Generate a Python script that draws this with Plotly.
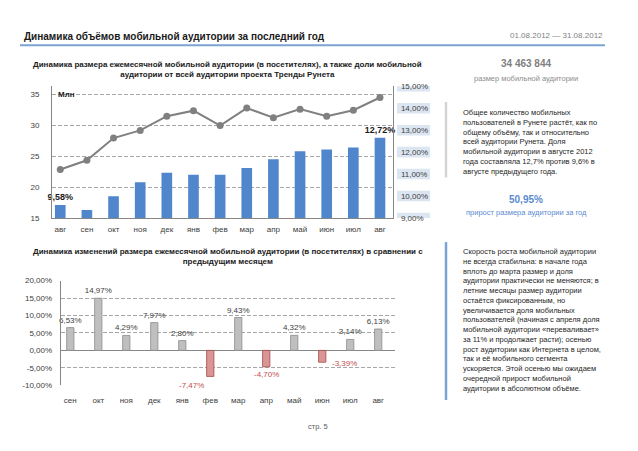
import plotly.graph_objects as go

# ---------------- data ----------------
months_top = ["авг", "сен", "окт", "ноя", "дек", "янв", "фев", "мар", "апр", "май", "июн", "июл", "авг"]
audience_mln = [17.1, 16.3, 18.5, 20.8, 22.3, 22.0, 22.0, 23.1, 24.5, 25.8, 26.1, 26.4, 28.0]
share_pct = [11.21, 11.63, 12.64, 12.99, 13.64, 13.89, 13.21, 14.01, 13.57, 13.96, 13.64, 13.91, 14.49]
bar_labels_top = ["9,58%", "", "", "", "", "", "", "", "", "", "", "", "12,72%"]

months_bottom = ["сен", "окт", "ноя", "дек", "янв", "фев", "мар", "апр", "май", "июн", "июл", "авг"]
change_pct = [6.53, 14.97, 4.29, 7.97, 2.80, -7.47, 9.43, -4.70, 4.32, -3.39, 3.14, 6.13]

left_ticks_top = [15, 20, 25, 30, 35]
right_ticks_top = [9, 10, 11, 12, 13, 14, 15]
ticks_bottom = [-10, -5, 0, 5, 10, 15, 20]

W, H = 638, 451
FONT = "Liberation Sans"


def fx(px):
    return px / W


def fy(py):
    return 1 - py / H


def pct(v):
    return f"{v:.2f}".replace(".", ",") + "%"


fig = go.Figure()

xs_top = list(range(len(months_top)))
fig.add_trace(go.Bar(
    x=xs_top, y=audience_mln, xaxis="x", yaxis="y",
    marker=dict(color="#5086CC", line=dict(width=0)), width=0.4,
    text=bar_labels_top, textposition="outside", cliponaxis=False, constraintext="none",
    textfont=dict(family=FONT, size=9, color="#1A1A1A", weight="bold"),
    showlegend=False, hoverinfo="skip"))
fig.add_trace(go.Scatter(
    x=xs_top, y=share_pct, xaxis="x", yaxis="y2", mode="lines+markers",
    line=dict(color="#808080", width=2),
    marker=dict(color="#808080", size=7),
    showlegend=False, hoverinfo="skip"))

xs_bot = list(range(len(months_bottom)))
pos_color = ["#BFBFBF" if v >= 0 else "#D99694" for v in change_pct]
pos_line = ["#8C8C8C" if v >= 0 else "#A34A48" for v in change_pct]
fig.add_trace(go.Bar(
    x=xs_bot, y=change_pct, xaxis="x2", yaxis="y3",
    marker=dict(color=pos_color, line=dict(color=pos_line, width=0.8)), width=0.26,
    text=[pct(v) if v >= 0 else "" for v in change_pct],
    textposition="outside", cliponaxis=False, constraintext="none",
    textfont=dict(family=FONT, size=8, color="#404040"),
    showlegend=False, hoverinfo="skip"))

annotations = []
# negative labels (Excel places them a little off the bar)
neg_shift = {5: (-19, -2), 7: (0, 0), 9: (22, 6)}
for i, v in enumerate(change_pct):
    if v < 0:
        dx, dy = neg_shift.get(i, (0, 0))
        annotations.append(dict(x=i, y=v, xref="x2", yref="y3", text=pct(v),
                                showarrow=False, yanchor="top", xshift=dx, yshift=dy - 1,
                                font=dict(family=FONT, size=8, color="#C0504D")))

# pale boxes behind right-axis labels
shapes = []
for v in right_ticks_top:
    shapes.append(dict(type="rect", xref="paper", yref="y2", x0=fx(397), x1=fx(430),
                       y0=v - 0.24, y1=v + 0.24, fillcolor="#DCE6F2", line=dict(width=0), layer="below"))

# header rule and side bars
shapes.append(dict(type="line", xref="paper", yref="paper", x0=fx(20), x1=fx(605), y0=fy(42), y1=fy(42),
                   line=dict(color="#7BA3D3", width=2)))
shapes.append(dict(type="line", xref="paper", yref="paper", x0=fx(446), x1=fx(446), y0=fy(100), y1=fy(177),
                   line=dict(color="#D4D4D4", width=2.5)))
shapes.append(dict(type="line", xref="paper", yref="paper", x0=fx(446), x1=fx(446), y0=fy(243), y1=fy(404),
                   line=dict(color="#7BA3D3", width=2.5)))


def txt(x, y, text, size=8, color="#262626", bold=False, xanchor="center", yanchor="middle", align="center"):
    annotations.append(dict(x=fx(x), y=fy(y), xref="paper", yref="paper", text=text, showarrow=False,
                            xanchor=xanchor, yanchor=yanchor, align=align,
                            font=dict(family=FONT, size=size, color=color, weight="bold" if bold else "normal")))


txt(22, 33, "Динамика объёмов мобильной аудитории за последний год", size=10, color="#1A1A1A",
    bold=True, xanchor="left")
txt(605, 32, "01.08.2012 — 31.08.2012", size=8, color="#7F7F7F", xanchor="right")
txt(228, 67, "Динамика размера ежемесячной мобильной аудитории (в посетителях), а также доли мобильной<br>"
             "аудитории от всей аудитории проекта Тренды Рунета", size=8, color="#1A1A1A", bold=True)
txt(228, 258, "Динамика изменений размера ежемесячной мобильной аудитории (в посетителях) в сравнении с<br>"
              "предыдущим месяцем", size=8, color="#1A1A1A", bold=True)
txt(526, 61, "34 463 844", size=10, color="#7F7F7F", bold=True)
txt(526, 76, "размер мобильной аудитории", size=7.5, color="#8C8C8C")
txt(461, 104, "Общее количество мобильных<br>пользователей в Рунете растёт, как по<br>"
              "общему объёму, так и относительно<br>всей аудитории Рунета. Доля<br>"
              "мобильной аудитории в августе 2012<br>года составляла 12,7% против 9,6% в<br>"
              "августе предыдущего года.", size=7.5, color="#262626", xanchor="left", yanchor="top", align="left")
txt(526, 199, "50,95%", size=10, color="#5B8BD0", bold=True)
txt(526, 213, "прирост размера аудитории за год", size=7.5, color="#5B8BD0")
txt(461, 246, "Скорость роста мобильной аудитории<br>не всегда стабильна: в начале года<br>"
              "вплоть до марта размер и доля<br>аудитории практически не меняются; в<br>"
              "летние месяцы размер аудитории<br>остаётся фиксированным, но<br>"
              "увеличивается доля мобильных<br>пользователей (начиная с апреля доля<br>"
              "мобильной аудитории «переваливает»<br>за 11% и продолжает расти); осенью<br>"
              "рост аудитории как Интернета в целом,<br>так и её мобильного сегмента<br>"
              "ускоряется. Этой осенью мы ожидаем<br>очередной прирост мобильной<br>"
              "аудитории в абсолютном объёме.", size=7.5, color="#262626", xanchor="left", yanchor="top",
    align="left")
txt(318, 431, "стр. 5", size=7.5, color="#595959")

annotations.append(dict(x=-0.31, y=35, xref="x", yref="y", text="Млн", showarrow=False,
                        xanchor="left", xshift=4, font=dict(family=FONT, size=8, color="#1A1A1A", weight="bold")))

tickfont = dict(family=FONT, size=8, color="#404040")
grid = dict(showgrid=True, gridcolor="#808080", gridwidth=0.7, griddash="4px,2px")

fig.update_layout(
    width=W, height=H, autosize=False,
    margin=dict(l=0, r=0, t=0, b=0),
    paper_bgcolor="white", plot_bgcolor="rgba(0,0,0,0)",
    font=dict(family=FONT),
    barmode="overlay",
    xaxis=dict(domain=[fx(52), fx(393.3)], range=[-0.31, 12.5], anchor="y",
               tickvals=xs_top, ticktext=months_top, tickfont=tickfont,
               showline=True, linecolor="#868686", linewidth=1, showgrid=False, zeroline=False,
               ticks="", ticklabelstandoff=3, fixedrange=True),
    yaxis=dict(domain=[fy(218.3), fy(84)], range=[15, 36.32], anchor="x",
               tickvals=left_ticks_top, ticktext=[str(v) for v in left_ticks_top], tickfont=tickfont,
               showline=True, linecolor="#868686", linewidth=1, zeroline=False,
               ticklabelstandoff=10, **grid),
    yaxis2=dict(overlaying="y", side="right", anchor="x", range=[9, 15],
                tickvals=right_ticks_top, ticktext=[pct(v) for v in right_ticks_top], tickfont=tickfont,
                showline=True, linecolor="#868686", linewidth=1, showgrid=False, zeroline=False,
                ticklabelstandoff=5),
    xaxis2=dict(domain=[fx(60.7), fx(395)], range=[-0.343, 11.6], anchor="y3",
                tickvals=xs_bot, ticktext=months_bottom, tickfont=tickfont,
                showline=False, showgrid=False, zeroline=False, ticks="", ticklabelstandoff=9),
    yaxis3=dict(domain=[fy(389), fy(282.3)], range=[-10, 20], anchor="x2",
                tickvals=ticks_bottom, ticktext=[pct(v) for v in ticks_bottom], tickfont=tickfont,
                showline=True, linecolor="#868686", linewidth=1,
                zeroline=True, zerolinecolor="#868686", zerolinewidth=1,
                ticklabelstandoff=6, **grid),
    annotations=annotations,
    shapes=shapes,
)

fig.write_html("out.html", config={"displayModeBar": False, "staticPlot": True},
               post_script="document.body.style.margin='0px';")
